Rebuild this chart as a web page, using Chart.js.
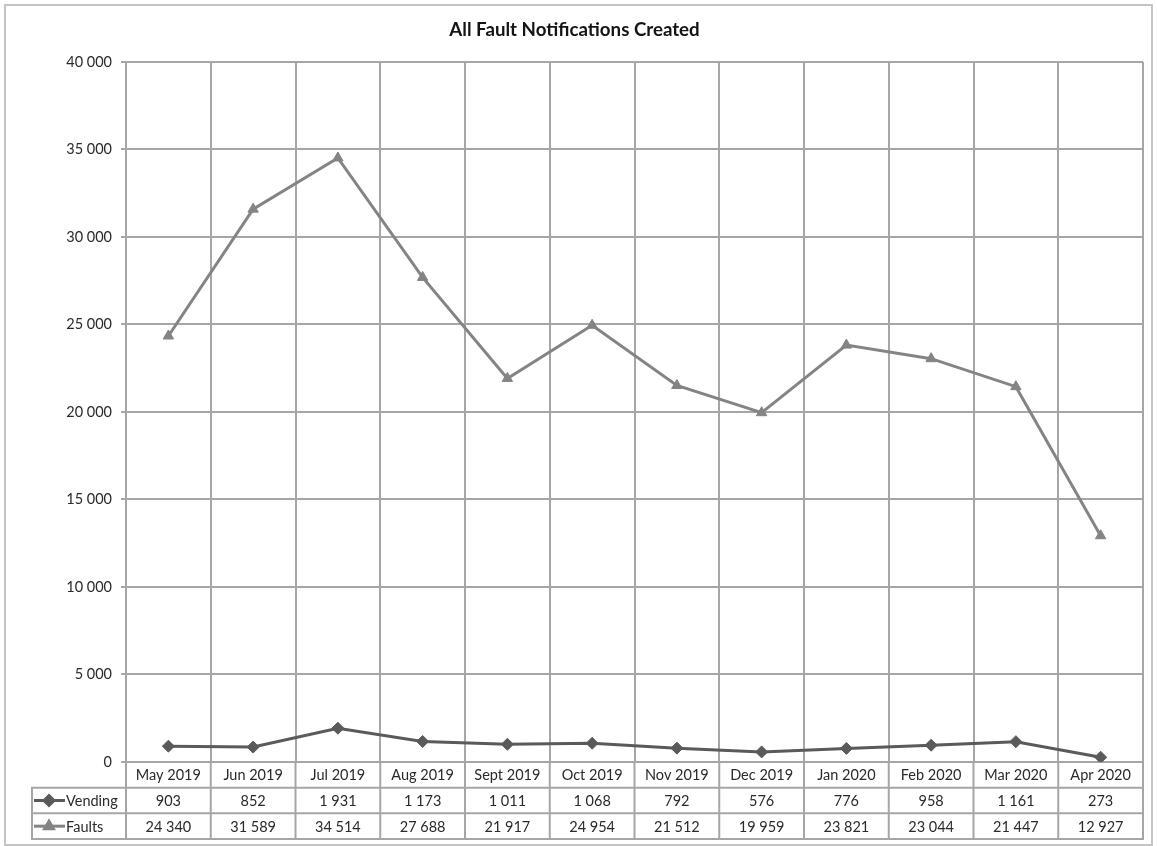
<!DOCTYPE html>
<html>
<head>
<meta charset="utf-8">
<script src="https://cdn.jsdelivr.net/npm/chart.js@4/dist/chart.umd.min.js"></script>
<style>
  html, body { margin: 0; padding: 0; background: #ffffff; }
  #wrap { width: 1157px; height: 846px; position: relative; }
</style>
</head>
<body>
<div id="wrap"><canvas id="chart" width="1157" height="846"></canvas></div>
<script>
// Monthly fault notification counts
const months = ['May 2019', 'Jun 2019', 'Jul 2019', 'Aug 2019', 'Sept 2019', 'Oct 2019',
                'Nov 2019', 'Dec 2019', 'Jan 2020', 'Feb 2020', 'Mar 2020', 'Apr 2020'];
const vending = [903, 852, 1931, 1173, 1011, 1068, 792, 576, 776, 958, 1161, 273];
const faults = [24340, 31589, 34514, 27688, 21917, 24954, 21512, 19959, 23821, 23044, 21447, 12927];
const seriesNames = ['Vending', 'Faults'];
const chartTitle = 'All Fault Notifications Created';

const FONT = 'Lato, "Liberation Sans", sans-serif';
const TEXT = '#2a2a2a';
const GRID = '#a6a6a6';
const VEND_COLOR = '#5a5a5a';
const FAULT_COLOR = '#848484';

// thousands grouped with a space, e.g. 24 340
function fmt(v) {
  return String(Math.round(v)).replace(/\B(?=(\d{3})+(?!\d))/g, ' ');
}

// Frame around the whole figure
const framePlugin = {
  id: 'frame',
  beforeDraw(chart) {
    const ctx = chart.ctx;
    ctx.save();
    ctx.fillStyle = '#ffffff';
    ctx.fillRect(0, 0, chart.width, chart.height);
    ctx.strokeStyle = '#c4c4c4';
    ctx.lineWidth = 2;
    ctx.strokeRect(5, 5, chart.width - 10, chart.height - 6);
    ctx.restore();
  }
};

// Data table drawn under the category axis
const tablePlugin = {
  id: 'dataTable',
  afterDraw(chart) {
    const ctx = chart.ctx;
    const area = chart.chartArea;
    const xs = chart.scales.x;
    const n = months.length;
    const colW = area.width / n;
    const top = area.bottom;
    const bottom = xs.bottom;
    const rowH = (bottom - top) / 3;
    const tableLeft = 32;
    ctx.save();
    ctx.strokeStyle = GRID;
    ctx.lineWidth = 2;
    // vertical cell borders
    ctx.beginPath();
    for (let i = 0; i <= n; i++) {
      const x = area.left + i * colW;
      ctx.moveTo(x, top);
      ctx.lineTo(x, bottom);
    }
    ctx.moveTo(tableLeft, top + rowH);
    ctx.lineTo(tableLeft, bottom);
    // horizontal cell borders
    for (let r = 1; r <= 3; r++) {
      const y = top + r * rowH;
      ctx.moveTo(tableLeft - 1, y);
      ctx.lineTo(area.right + 1, y);
    }
    ctx.stroke();

    // values
    ctx.fillStyle = TEXT;
    ctx.font = '14.5px ' + FONT;
    ctx.textAlign = 'center';
    ctx.textBaseline = 'middle';
    const rows = [vending, faults];
    rows.forEach((vals, r) => {
      const yc = top + (r + 1.5) * rowH + 1;
      vals.forEach((v, i) => {
        ctx.fillText(fmt(v), area.left + (i + 0.5) * colW, yc);
      });
    });

    // legend keys in the row headers
    const colors = [VEND_COLOR, FAULT_COLOR];
    const styles = ['rectRot', 'triangle'];
    seriesNames.forEach((name, r) => {
      const yc = top + (r + 1.5) * rowH;
      ctx.strokeStyle = colors[r];
      ctx.lineWidth = 3;
      ctx.beginPath();
      ctx.moveTo(34, yc);
      ctx.lineTo(65, yc);
      ctx.stroke();
      ctx.fillStyle = colors[r];
      Chart.helpers.drawPoint(ctx, { pointStyle: styles[r], radius: 5, rotation: 0, borderWidth: 1 }, 49, yc);
      ctx.fillStyle = TEXT;
      ctx.textAlign = 'left';
      ctx.fillText(name, 66, yc + 1);
    });
    ctx.restore();
  }
};

new Chart(document.getElementById('chart'), {
  type: 'line',
  data: {
    labels: months,
    datasets: [
      {
        label: seriesNames[0],
        data: vending,
        borderColor: VEND_COLOR,
        backgroundColor: VEND_COLOR,
        borderWidth: 3,
        pointStyle: 'rectRot',
        pointRadius: 6,
        pointBorderWidth: 1,
        tension: 0
      },
      {
        label: seriesNames[1],
        data: faults,
        borderColor: FAULT_COLOR,
        backgroundColor: FAULT_COLOR,
        borderWidth: 3,
        pointStyle: 'triangle',
        pointRadius: 6,
        pointBorderWidth: 1,
        tension: 0
      }
    ]
  },
  options: {
    responsive: false,
    animation: false,
    devicePixelRatio: 1,
    layout: { padding: { left: 6, right: 14, top: 6, bottom: 7 } },
    plugins: {
      legend: { display: false },
      tooltip: { enabled: false },
      title: {
        display: true,
        text: chartTitle,
        color: '#141414',
        font: { family: FONT, size: 18.7, weight: 'bold' },
        padding: { top: 12.3, bottom: 21.2 }
      }
    },
    scales: {
      x: {
        offset: true,
        grid: { offset: true, color: GRID, lineWidth: 2, drawTicks: false },
        border: { color: GRID, width: 2 },
        ticks: {
          color: TEXT,
          font: { family: FONT, size: 14.5 },
          padding: 5,
          maxRotation: 0,
          autoSkip: false
        },
        afterFit(scale) { scale.height = 77; }
      },
      y: {
        min: 0,
        max: 40000,
        grid: { color: GRID, lineWidth: 2, tickLength: 5 },
        border: { color: GRID, width: 2 },
        ticks: {
          stepSize: 5000,
          color: TEXT,
          font: { family: FONT, size: 14.5 },
          padding: 9,
          callback: (v) => fmt(v)
        },
        afterFit(scale) { scale.width = 120; }
      }
    }
  },
  plugins: [framePlugin, tablePlugin]
});
</script>
</body>
</html>
